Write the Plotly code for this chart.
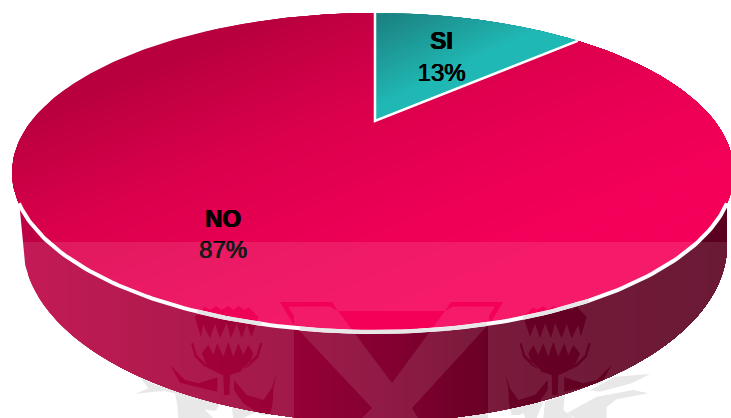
import numpy as np
import plotly.graph_objects as go

categories = ["SI", "NO"]
values = [13, 87]
label_anchor = {"SI": (441.5, 59), "NO": (223, 236.5)}

W, H = 731, 418
# Perspective projection of the unit disc to screen pixels
CX, APEX_Y, R_LEFT, R_RIGHT, C, A = 375.0, 121.0, 343.5, 339.5, 0.3229, -103.8


def project(u, v):
    d = 1 + C * v
    return CX + np.where(u < 0, R_LEFT, R_RIGHT) * u / d, (A * v + APEX_Y) / d


def sector(a0, a1, n=240):
    th = np.linspace(a0, a1, n)
    x, y = project(np.sin(th), np.cos(th))
    return np.r_[CX, x, CX], np.r_[APEX_Y, y, APEX_Y]


def clip(x, y, nx, ny, level):
    """Keep the part of a polygon where nx*x+ny*y >= level."""
    ox, oy = [], []
    n = len(x)
    for i in range(n):
        j = (i + 1) % n
        di = nx * x[i] + ny * y[i] - level
        dj = nx * x[j] + ny * y[j] - level
        if di >= 0:
            ox.append(x[i]); oy.append(y[i])
        if di * dj < 0:
            t = di / (di - dj)
            ox.append(x[i] + t * (x[j] - x[i])); oy.append(y[i] + t * (y[j] - y[i]))
    return ox, oy


def ramp(stops, t):
    p = [s[0] for s in stops]
    return tuple(np.interp(t, p, [s[1][k] for s in stops]) for k in range(3))


def css(c):
    return "rgb(%d,%d,%d)" % tuple(int(round(v)) for v in c)


fig = go.Figure()


def banded(x, y, nx, ny, stops, count):
    vals = nx * np.asarray(x) + ny * np.asarray(y)
    levels = np.linspace(vals.min(), vals.max(), count, endpoint=False)
    for lv in levels:
        ox, oy = clip(list(x), list(y), nx, ny, lv)
        if len(ox) < 3:
            continue
        c = ramp(stops, lv)
        fig.add_trace(go.Scatter(x=ox + ox[:1], y=oy + oy[:1], mode="lines", fill="toself",
                                 fillcolor=css(c), line=dict(width=0), hoverinfo="skip",
                                 showlegend=False))


# ---- side wall
wall_stops = [(15, (190, 0, 68)), (167, (167, 0, 58)), (285, (150, 0, 54)), (390, (130, 0, 48)),
              (470, (108, 0, 38)), (600, (96, 0, 34)), (731, (90, 0, 32))]
ph = np.linspace(np.pi, 0, 200)
wx = 375 + 352 * np.cos(ph)
wy = 245 + 177 * np.sin(ph)
wall_x = np.r_[18, wx, 726]
wall_y = np.r_[190, wy, 190]
banded(wall_x, wall_y, 1, 0, wall_stops, 70)

# ---- pie top from the values
fracs = np.cumsum([0] + values) / sum(values) * 2 * np.pi
si_x, si_y = sector(fracs[0], fracs[1])
no_x, no_y = sector(fracs[1], fracs[2])
no_stops = [(300, (184, 0, 62)), (600, (217, 0, 75)), (900, (235, 0, 85)), (1150, (244, 0, 90))]
si_stops = [(2.5, (27, 130, 130)), (3.6, (32, 184, 180))]
banded(no_x, no_y, 1, 2.5, no_stops, 50)
banded(si_x, si_y, 1 / 165, 1 / 80, si_stops, 30)

# white separators
fig.add_trace(go.Scatter(x=[si_x[-2], CX, si_x[1]], y=[si_y[-2], APEX_Y, si_y[1]], mode="lines",
                         line=dict(color="white", width=2.5), hoverinfo="skip", showlegend=False))
th = np.linspace(fracs[0], fracs[2], 400)
ex, ey = project(np.sin(th), np.cos(th))
keep = ey > 203
fig.add_trace(go.Scatter(x=ex[keep], y=ey[keep], mode="lines", line=dict(color="white", width=4),
                         hoverinfo="skip", showlegend=False))
# the crest shows grey through the white rim
for lo, hi in [(193, 262), (294, 488), (520, 590)]:
    band = keep & (ex > lo) & (ex < hi)
    fig.add_trace(go.Scatter(x=ex[band], y=ey[band], mode="lines", line=dict(color="#e6e6e6", width=4),
                             hoverinfo="skip", showlegend=False))

# ---- labels
total = sum(values)
fig.add_trace(go.Scatter(
    x=[label_anchor[c][0] for c in categories],
    y=[label_anchor[c][1] for c in categories],
    mode="text",
    text=["<b>%s</b><br>%d%%" % (c, round(100 * v / total)) for c, v in zip(categories, values)],
    textposition="middle center",
    textfont=dict(family="Liberation Sans", size=24, color="black",
                  shadow="0.6px 0 0 black, -0.3px 0 0 black"),
    hoverinfo="skip", showlegend=False))


# ---- watermark: grey crest on the paper, holes in a translucent white veil over the chart
def poly(pts):
    return "M" + "L".join("%.1f,%.1f" % p for p in pts) + "Z"


def oriented(pts):
    a = sum(pts[i][0] * pts[(i + 1) % len(pts)][1] - pts[(i + 1) % len(pts)][0] * pts[i][1]
            for i in range(len(pts)))
    return pts if a < 0 else pts[::-1]


crest = [
    [(338, 311), (445, 311), (392, 383)],
    [(294, 325), (372, 408), (362, 418), (294, 418)],
    [(488, 325), (412, 408), (418, 418), (488, 418)],
    [(294, 325), (280, 302), (332, 302), (338, 311), (330, 306.5), (288, 306.5), (294, 316)],
    [(489, 325), (503, 302), (451, 302), (445, 311), (453, 306.5), (495, 306.5), (489, 316)],
]

# thistle outlines in 3x crop coordinates relative to the flower axis
THISTLE = [
    [(195, 50), (225, 20), (240, 30), (258, 18), (275, 30), (295, 18), (310, 30), (325, 18), (345, 30),
     (355, 22), (385, 50), (365, 110), (350, 72), (335, 115), (320, 70), (302, 115), (290, 68), (270, 115),
     (255, 72), (240, 115), (220, 75), (212, 110)],
    [(215, 160), (235, 135), (250, 165), (262, 130), (280, 170), (295, 125), (310, 170), (325, 130),
     (340, 165), (355, 135), (370, 160), (360, 190), (330, 215), (300, 225), (298, 285), (282, 285),
     (280, 225), (255, 215), (230, 195)],
    [(183, 130), (190, 130), (200, 165), (230, 195), (250, 212), (222, 198), (195, 172)],
    [(397, 130), (390, 130), (380, 165), (350, 195), (330, 212), (358, 198), (385, 172)],
    [(120, 195), (165, 240), (205, 250), (262, 232), (262, 275), (205, 262), (150, 248)],
    [(440, 220), (430, 265), (428, 310), (420, 345), (395, 345), (340, 310), (312, 270), (312, 240),
     (350, 285), (400, 300), (425, 265)],
]
for origin, mirror in [(130 + 290 / 3, 1), (490 + 195 / 3, -1)]:
    for part in THISTLE:
        crest.append([(origin + mirror * (px - 290) / 3, 300 + py / 3) for px, py in part])

# grey branches on the bare paper below the wall, 3x crop coordinates
BRANCH_L = [
    [(60, 52), (100, 72), (255, 118), (298, 133), (288, 152), (240, 148), (205, 118), (165, 100), (130, 92),
     (45, 102), (85, 85)],
    [(165, 100), (205, 118), (255, 150), (280, 174), (175, 174), (172, 135)],
    [(335, 140), (410, 155), (370, 174), (340, 174)],
]
BRANCH_R = [
    [(65, 143), (130, 125), (110, 174), (75, 174)],
    [(135, 125), (195, 105), (190, 150), (220, 174), (130, 174)],
    [(200, 160), (290, 110), (400, 90), (445, 100), (350, 118), (320, 140), (320, 174), (225, 174)],
    [(270, 90), (345, 50), (450, 42), (395, 70), (300, 95)],
]
grey_parts = list(crest)
grey_parts += [[(120 + px / 3, 360 + py / 3) for px, py in p] for p in BRANCH_L]
grey_parts += [[(500 + px / 3, 360 + py / 3) for px, py in p] for p in BRANCH_R]

shapes = []
for part in grey_parts:
    shapes.append(dict(type="path", xref="x", yref="y", path=poly(part), layer="below",
                       fillcolor="#e6e6e6", line=dict(width=0)))
veil = "M0,242L0,418L731,418L731,242Z" + "".join(poly(oriented(p)[::-1]) for p in crest)
shapes.append(dict(type="path", xref="x", yref="y", path=veil, layer="above",
                   fillcolor="rgba(255,255,255,0.1)", line=dict(width=0)))

fig.update_layout(
    width=W, height=H, margin=dict(l=0, r=0, t=0, b=0),
    paper_bgcolor="white", plot_bgcolor="white", showlegend=False,
    xaxis=dict(range=[0, W], visible=False, fixedrange=True),
    yaxis=dict(range=[H, 0], visible=False, fixedrange=True),
    shapes=shapes,
)
fig.write_html("out.html", config={"displayModeBar": False},
               post_script="document.body.style.margin='0';document.body.style.overflow='hidden';")
